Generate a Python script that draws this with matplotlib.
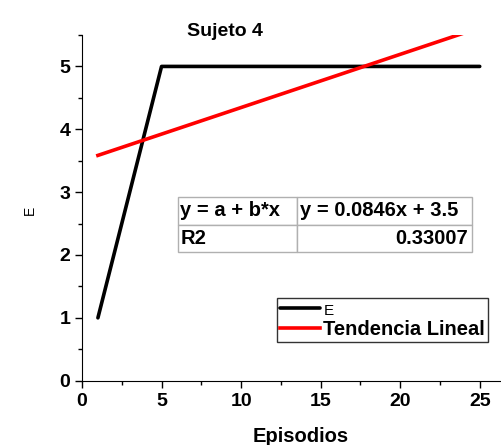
import numpy as np
import matplotlib.pyplot as plt
from matplotlib.ticker import MultipleLocator

plt.rcParams['font.family'] = ['Liberation Sans', 'DejaVu Sans']

# datos del sujeto 4
episodios = list(range(1, 26))
valores_E = [1, 2, 3, 4] + [5] * 21
tabla_filas = [["y = a + b*x", "y = 0.0846x + 3.5"],
               ["R2", "0.33007"]]

# tendencia lineal
b, a = np.polyfit(episodios, valores_E, 1)
x_fit = np.array([episodios[0], episodios[-1]])
y_fit = a + b * x_fit

fig = plt.figure(figsize=(5.02, 4.45), dpi=100)
W, H = 502, 445
ax = fig.add_axes([82 / W, 1 - 380.7 / H, (W - 82) / W, (380.7 - 35) / H])

ax.plot(episodios, valores_E, color='black', lw=2.6, label='E', solid_capstyle='round')
ax.plot(x_fit, y_fit, color='red', lw=2.6, label='Tendencia Lineal')

ax.set_xlim(0, 26.4)
ax.set_ylim(0, 5.5)
ax.spines['top'].set_visible(False)
ax.spines['right'].set_visible(False)
ax.xaxis.set_major_locator(MultipleLocator(5))
ax.xaxis.set_minor_locator(MultipleLocator(2.5))
ax.yaxis.set_major_locator(MultipleLocator(1))
ax.yaxis.set_minor_locator(MultipleLocator(0.5))
ax.tick_params(which='major', length=5, width=1, labelsize=14)
ax.tick_params(which='minor', length=3, width=1)
for lbl in ax.get_xticklabels() + ax.get_yticklabels():
    lbl.set_fontweight('bold')

fig.text(225 / W, 1 - 31 / H, "Sujeto 4", ha='center', va='center',
         fontsize=14, fontweight='bold')
fig.text(301 / W, 1 - 437 / H, "Episodios", ha='center', va='center',
         fontsize=14.5, fontweight='bold')
fig.text(30 / W, 1 - 210 / H, "E", ha='center', va='center',
         fontsize=10, rotation=90)

# tabla del ajuste
tab = ax.table(cellText=tabla_filas, cellLoc='left',
               bbox=[(178 - 82) / 420, (380.7 - 252) / 345.7,
                     (472 - 178) / 420, 55 / 345.7],
               colWidths=[119, 175])
tab.auto_set_font_size(False)
for (r, c), cell in tab.get_celld().items():
    cell.set_edgecolor('#b0b0b0')
    cell.set_linewidth(1)
    cell.PAD = 0.02
    txt = cell.get_text()
    txt.set_fontsize(14.5)
    txt.set_fontweight('bold')
    if r == 1 and c == 1:
        cell._loc = 'right'
        txt.set_ha('right')

leg = ax.legend(loc='lower left', bbox_to_anchor=((277 - 82) / 420, (380.7 - 342) / 345.7),
                fontsize=14.5, frameon=True, fancybox=False, edgecolor='black',
                handlelength=2.0, handletextpad=0.15, borderpad=0.15,
                labelspacing=0.1, borderaxespad=0)
leg.get_frame().set_linewidth(1)
texts = leg.get_texts()
texts[0].set_fontsize(11)
texts[1].set_fontweight('bold')

fig.savefig('out.png', dpi=100)
